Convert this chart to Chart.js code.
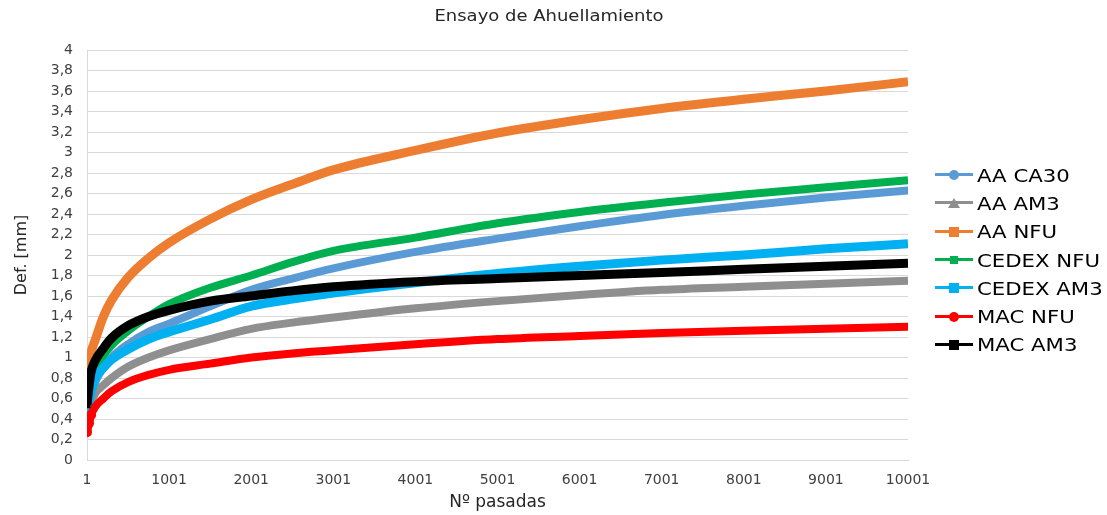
<!DOCTYPE html>
<html>
<head>
<meta charset="utf-8">
<script src="https://cdn.jsdelivr.net/npm/chart.js@4"></script>
<style>
  body { margin: 0; background: #fff; }
  #wrap { position: relative; width: 1107px; height: 515px; }
  #title { position: absolute; left: 549px; top: 7px; white-space: nowrap; font-family: "DejaVu Sans", sans-serif; font-size: 15px; color: #262626; transform: translateX(-50%) scaleX(1.2); }
  #legend { position: absolute; left: 935px; top: 161px; font-family: "DejaVu Sans", sans-serif; font-size: 18px; color: #000; }
  .row { display: flex; align-items: center; height: 28.3px; }
  .sym { position: relative; width: 38px; height: 14px; margin-right: 4px; flex: none; }
  .sym .ln { position: absolute; left: 0; top: 5px; width: 38px; height: 3px; }
  .sym .mk { position: absolute; left: 14px; top: 2px; width: 10px; height: 10px; }
  .txt { display: inline-block; transform: scaleX(1.18); transform-origin: left center; white-space: nowrap; }
</style>
</head>
<body>
<div id="wrap">
  <canvas id="chart" width="1107" height="515"></canvas>
  <div id="title">Ensayo de Ahuellamiento</div>
  <div id="legend"></div>
</div>
<script>
const passes = [1, 26, 51, 101, 201, 301, 501, 751, 1001, 1501, 2001, 2501, 3001, 4001, 5001, 6001, 7001, 8001, 9001, 10001];
const xTicks = [1, 1001, 2001, 3001, 4001, 5001, 6001, 7001, 8001, 9001, 10001];

const seriesNames = ['AA CA30', 'AA AM3', 'AA NFU', 'CEDEX NFU', 'CEDEX AM3', 'MAC NFU', 'MAC AM3'];
const seriesColors = ['#5B9BD5', '#8F8F8F', '#ED7D31', '#00B050', '#00B0F0', '#FF0000', '#000000'];
const seriesMarkers = ['circle', 'triangle', 'rect', 'rect', 'rect', 'circle', 'rect'];

const aaCA30    = [0.38, 0.50, 0.62, 0.76, 0.90, 1.00, 1.13, 1.25, 1.33, 1.50, 1.66, 1.77, 1.87, 2.03, 2.16, 2.28, 2.39, 2.48, 2.56, 2.63];
const aaAM3     = [0.35, 0.45, 0.55, 0.65, 0.73, 0.80, 0.91, 1.00, 1.07, 1.18, 1.28, 1.34, 1.39, 1.48, 1.55, 1.61, 1.66, 1.69, 1.72, 1.75];
const aaNFU     = [0.77, 0.92, 1.05, 1.17, 1.40, 1.56, 1.78, 1.97, 2.12, 2.35, 2.54, 2.69, 2.83, 3.02, 3.19, 3.32, 3.43, 3.52, 3.60, 3.69];
const cedexNFU  = [0.55, 0.65, 0.75, 0.88, 1.02, 1.12, 1.26, 1.40, 1.52, 1.68, 1.80, 1.93, 2.04, 2.17, 2.31, 2.42, 2.51, 2.59, 2.66, 2.73];
const cedexAM3  = [0.42, 0.55, 0.66, 0.80, 0.90, 0.98, 1.08, 1.18, 1.25, 1.37, 1.50, 1.57, 1.63, 1.73, 1.82, 1.89, 1.95, 2.00, 2.06, 2.11];
const macNFU    = [0.27, 0.36, 0.44, 0.52, 0.60, 0.67, 0.76, 0.83, 0.88, 0.94, 1.00, 1.04, 1.07, 1.13, 1.18, 1.21, 1.24, 1.26, 1.28, 1.30];
const macAM3    = [0.54, 0.72, 0.86, 0.97, 1.09, 1.19, 1.31, 1.40, 1.46, 1.55, 1.60, 1.65, 1.69, 1.74, 1.77, 1.80, 1.83, 1.86, 1.89, 1.92];

const allSeries = [aaCA30, aaAM3, aaNFU, cedexNFU, cedexAM3, macNFU, macAM3];

const fmt = v => String(Math.round(v * 10) / 10).replace('.', ',');

const datasets = allSeries.map((vals, i) => ({
  label: seriesNames[i],
  data: vals.map((v, j) => ({ x: passes[j], y: v })),
  borderColor: seriesColors[i],
  backgroundColor: seriesColors[i],
  borderWidth: i === 2 || i === 4 || i === 6 ? 9 : 8,
  borderCapStyle: seriesMarkers[i] === 'circle' ? 'round' : 'butt',
  cubicInterpolationMode: 'monotone',
  pointStyle: seriesMarkers[i],
  // only the first few markers stand out of the band in the picture
  pointRadius: ctx => (i >= 5 && ctx.dataIndex <= 2) ? 5 : 0,
  pointBorderWidth: 0,
  order: 7 - i
}));

new Chart(document.getElementById('chart'), {
  type: 'line',
  data: { datasets },
  options: {
    responsive: false,
    animation: false,
    layout: { padding: { left: 0, right: 199, top: 50, bottom: 0 } },
    plugins: {
      legend: { display: false },
      tooltip: { enabled: false },
      title: { display: false }
    },
    scales: {
      x: {
        type: 'linear',
        min: 1,
        max: 10001,
        afterBuildTicks: scale => { scale.ticks = xTicks.map(v => ({ value: v })); },
        afterFit: scale => { scale.height = 55; },
        ticks: {
          color: '#404040',
          maxRotation: 0,
          autoSkip: false,
          font: { family: 'DejaVu Sans', size: 14 },
          padding: 12,
          callback: v => String(v)
        },
        grid: { display: false, drawTicks: false },
        border: { color: '#d9d9d9' },
        title: {
          display: true,
          text: 'Nº pasadas',
          color: '#262626',
          font: { family: 'DejaVu Sans', size: 17 },
          padding: { top: 4, bottom: 2 }
        }
      },
      y: {
        min: 0,
        max: 4,
        afterFit: scale => { scale.width = 87; },
        ticks: {
          stepSize: 0.2,
          color: '#404040',
          font: { family: 'DejaVu Sans', size: 14 },
          padding: 14,
          callback: v => fmt(v)
        },
        grid: { color: '#d9d9d9', drawTicks: false },
        border: { color: '#d9d9d9' },
        title: {
          display: true,
          text: 'Def. [mm]',
          color: '#262626',
          font: { family: 'DejaVu Sans', size: 16 },
          padding: { top: 12, bottom: 4 }
        }
      }
    }
  }
});

// legend like Excel: line with the marker in the middle
const legend = document.getElementById('legend');
legend.innerHTML = seriesNames.map((name, i) => {
  const c = seriesColors[i];
  let mk;
  if (seriesMarkers[i] === 'circle') {
    mk = `<span class="mk" style="background:${c};border-radius:50%;"></span>`;
  } else if (seriesMarkers[i] === 'triangle') {
    mk = `<span class="mk" style="width:0;height:0;border-left:6px solid transparent;border-right:6px solid transparent;border-bottom:10px solid ${c};left:13px;"></span>`;
  } else {
    const s = i === 3 ? 8 : 10;
    mk = `<span class="mk" style="background:${c};width:${s}px;height:${s}px;top:${2 + (10 - s) / 2}px;left:${14 + (10 - s) / 2}px;"></span>`;
  }
  return `<div class="row"><span class="sym"><span class="ln" style="background:${c};"></span>${mk}</span><span class="txt">${name}</span></div>`;
}).join('');
</script>
</body>
</html>
